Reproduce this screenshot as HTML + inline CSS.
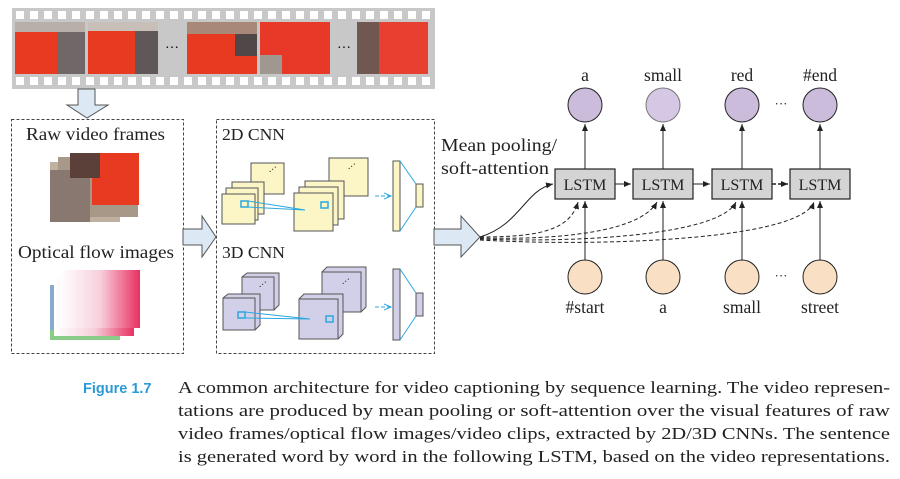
<!DOCTYPE html>
<html><head><style>
body{margin:0;width:900px;height:479px;background:#fff;overflow:hidden;font-family:"Liberation Serif",serif;}
</style></head><body>
<svg width="900" height="479" style="position:absolute;left:0;top:0" font-family="Liberation Serif, serif">
<defs>
<marker id="ah" markerWidth="8" markerHeight="8" refX="7" refY="4" orient="auto" markerUnits="userSpaceOnUse"><path d="M0,1 L7,4 L0,7 z" fill="#222"/></marker>
<marker id="bh" markerWidth="8" markerHeight="8" refX="7" refY="4" orient="auto" markerUnits="userSpaceOnUse"><path d="M0,1 L7,4 L0,7" fill="none" stroke="#29a8e0"/></marker>
<linearGradient id="flow" x1="0" y1="0" x2="1" y2="0"><stop offset="0" stop-color="#fff"/><stop offset="0.5" stop-color="#f7d0dc"/><stop offset="1" stop-color="#e83060"/></linearGradient>
</defs>
<rect x="12" y="8" width="423" height="81" fill="#c8c8c8"/>
<g id="holes" fill="#fff"></g>
<rect x="15" y="22" width="70" height="52" fill="#e83a20"/><rect x="58" y="22" width="27" height="52" fill="#706868"/><rect x="15" y="22" width="70" height="10" fill="#b8b0a8"/>
<rect x="88" y="22" width="70" height="52" fill="#e83a20"/><rect x="135" y="22" width="23" height="52" fill="#605858"/><rect x="88" y="22" width="70" height="9" fill="#c8c0b8"/>
<text x="172" y="52" font-size="14" text-anchor="middle">···</text>
<rect x="187" y="22" width="70" height="52" fill="#e83a20"/><rect x="187" y="22" width="70" height="12" fill="#a88878"/><rect x="235" y="34" width="22" height="22" fill="#504848"/>
<rect x="260" y="22" width="70" height="52" fill="#e83828"/><rect x="260" y="55" width="22" height="19" fill="#a09890"/>
<text x="344" y="52" font-size="14" text-anchor="middle">···</text>
<rect x="357" y="22" width="71" height="52" fill="#e84030"/><rect x="357" y="22" width="22" height="52" fill="#705850"/>
<path d="M78,89 H95 V105 H108 L87,118 L67,105 H78 Z" fill="#dce8f4" stroke="#555" stroke-width="1"/>
<rect x="11.5" y="119.5" width="172" height="234" fill="none" stroke="#444" stroke-dasharray="3,2"/>
<rect x="216.5" y="119.5" width="218" height="234" fill="none" stroke="#444" stroke-dasharray="3,2"/>
<text x="26" y="140" font-size="18" textLength="139" lengthAdjust="spacingAndGlyphs" fill="#222">Raw video frames</text>
<text x="18" y="258" font-size="18" textLength="156" lengthAdjust="spacingAndGlyphs" fill="#222">Optical flow images</text>
<rect x="50" y="162" width="70" height="60" fill="#c0b0a0"/><rect x="58" y="157" width="80" height="60" fill="#a89888"/><rect x="92" y="153" width="47" height="52" fill="#e83a20"/><rect x="50" y="170" width="40" height="52" fill="#887870"/><rect x="70" y="153" width="30" height="25" fill="#5a4038"/>
<rect x="50" y="285" width="70" height="55" fill="#8ac"/><rect x="50" y="330" width="70" height="10" fill="#8c8"/><rect x="54" y="278" width="80" height="58" fill="url(#flow)"/><rect x="60" y="270" width="80" height="58" fill="url(#flow)"/>
<path d="M183,229 H202 V216 L216,237 L202,257 V245 H183 Z" fill="#dce8f4" stroke="#555"/>
<path d="M434,229 H461 V216 L480,237 L461,257 V245 H434 Z" fill="#dce8f4" stroke="#555"/>
<text x="222" y="140" font-size="17" textLength="63" lengthAdjust="spacingAndGlyphs" fill="#222">2D CNN</text>
<g fill="#fcf5c6" stroke="#555">
<rect x="251" y="163" width="33" height="31"/>
<rect x="232" y="182" width="32" height="32"/><rect x="226" y="188" width="32" height="32"/><rect x="222" y="194" width="33" height="30"/>
<rect x="329" y="158" width="39" height="38"/>
<rect x="305" y="181" width="39" height="38"/><rect x="299" y="187" width="39" height="38"/><rect x="294" y="193" width="39" height="38"/>
<rect x="393" y="161" width="7" height="70"/><rect x="416" y="184" width="7" height="23"/>
</g>
<text x="271" y="175" font-size="10" fill="#222" transform="rotate(-40 271 175)">···</text>
<text x="350" y="172" font-size="10" fill="#222" transform="rotate(-40 350 172)">···</text>
<g stroke="#29a8e0" fill="none" stroke-width="1">
<rect x="241" y="201" width="7" height="6" stroke-width="1.5"/><rect x="321" y="202" width="7" height="6" stroke-width="1.5"/>
<path d="M248,201 L305,210 M248,207 L305,210"/>
<path d="M400,161 L416,184 M400,231 L416,207"/>
<path d="M375,196 H391" stroke-dasharray="4,2" marker-end="url(#bh)"/>
</g>
<text x="222" y="258" font-size="17" textLength="63" lengthAdjust="spacingAndGlyphs" fill="#222">3D CNN</text>
<g fill="#d2d0e8" stroke="#555">
<path d="M242,277 L247,273 H279 V305 L274,310"/><rect x="242" y="277" width="32" height="33"/>
<path d="M223,298 L228,294 H260 V325 L255,330"/><rect x="223" y="298" width="32" height="32"/>
<path d="M322,272 L327,267 H366 V307 L361,312"/><rect x="322" y="272" width="39" height="40"/>
<path d="M299,299 L304,294 H343 V334 L338,339"/><rect x="299" y="299" width="39" height="40"/>
<rect x="393" y="269" width="7" height="71"/><rect x="416" y="293" width="7" height="23"/>
</g>
<text x="261" y="290" font-size="10" fill="#222" transform="rotate(-40 261 290)">···</text>
<text x="344" y="287" font-size="10" fill="#222" transform="rotate(-40 344 287)">···</text>
<g stroke="#29a8e0" fill="none">
<rect x="238" y="312" width="7" height="6" stroke-width="1.5"/><rect x="326" y="316" width="7" height="6" stroke-width="1.5"/>
<path d="M245,312 L310,319 M245,318 L310,319"/>
<path d="M400,269 L416,293 M400,340 L416,316"/>
<path d="M375,307 H391" stroke-dasharray="4,2" marker-end="url(#bh)"/>
</g>
<text x="441" y="151" font-size="18" textLength="116" lengthAdjust="spacingAndGlyphs" fill="#222">Mean pooling/</text>
<text x="441" y="174" font-size="18" textLength="108" lengthAdjust="spacingAndGlyphs" fill="#222">soft-attention</text>
<g fill="#d4d4d4" stroke="#222" stroke-width="1.2">
<rect x="555" y="169" width="60" height="30"/><rect x="633" y="169" width="60" height="30"/><rect x="712" y="169" width="60" height="30"/><rect x="790" y="169" width="60" height="30"/>
</g>
<g font-size="16" text-anchor="middle" fill="#222">
<text x="585" y="190">LSTM</text><text x="663" y="190">LSTM</text><text x="742" y="190">LSTM</text><text x="820" y="190">LSTM</text>
</g>
<g stroke="#222" fill="none" stroke-width="1">
<path d="M615,184 H631" marker-end="url(#ah)"/><path d="M693,184 H710" marker-end="url(#ah)"/>
<path d="M772,184 H788" marker-end="url(#ah)" stroke-dasharray="4,2" stroke-width="1.5"/>
<path d="M585,169 V124" marker-end="url(#ah)"/><path d="M663,169 V124" marker-end="url(#ah)"/><path d="M742,169 V124" marker-end="url(#ah)"/><path d="M820,169 V124" marker-end="url(#ah)"/>
<path d="M585,260 V201" marker-end="url(#ah)"/><path d="M663,260 V201" marker-end="url(#ah)"/><path d="M742,260 V201" marker-end="url(#ah)"/><path d="M820,260 V201" marker-end="url(#ah)"/>
<path d="M480,237 C520,225 525,190 553,184" marker-end="url(#ah)"/>
<g stroke-dasharray="4,2.5">
<path d="M480,237 C540,237 570,230 578,202" marker-end="url(#ah)"/>
<path d="M480,238 C560,240 640,232 657,202" marker-end="url(#ah)"/>
<path d="M480,239 C580,243 720,235 736,202" marker-end="url(#ah)"/>
<path d="M480,240 C600,247 800,240 814,202" marker-end="url(#ah)"/>
</g>
</g>
<g fill="#cbbcdc" stroke="#222"><circle cx="585" cy="105" r="17"/><circle cx="663" cy="105" r="17" fill="#d4c8e4" stroke="#777"/><circle cx="742" cy="105" r="17"/><circle cx="820" cy="105" r="17"/></g>
<g fill="#f9dfc4" stroke="#222"><circle cx="585" cy="277" r="17"/><circle cx="663" cy="277" r="17"/><circle cx="742" cy="277" r="17"/><circle cx="820" cy="277" r="17"/></g>
<g font-size="17.5" text-anchor="middle" fill="#222">
<text x="585" y="81">a</text><text x="663" y="81">small</text><text x="742" y="81">red</text><text x="820" y="81">#end</text>
<text x="585" y="313">#start</text><text x="663" y="313">a</text><text x="742" y="313">small</text><text x="820" y="313">street</text>
<text x="781" y="108" font-size="13">···</text><text x="781" y="280" font-size="13">···</text>
</g>
<text x="83" y="393" font-size="14.5" font-weight="bold" fill="#2a9ad6" font-family="Liberation Sans, sans-serif">Figure 1.7</text>
<g font-size="17" fill="#222">
<text x="178" y="393" textLength="712" lengthAdjust="spacingAndGlyphs">A common architecture for video captioning by sequence learning. The video represen-</text>
<text x="178" y="416" textLength="712" lengthAdjust="spacingAndGlyphs">tations are produced by mean pooling or soft-attention over the visual features of raw</text>
<text x="178" y="439" textLength="712" lengthAdjust="spacingAndGlyphs">video frames/optical flow images/video clips, extracted by 2D/3D CNNs. The sentence</text>
<text x="178" y="462" textLength="712" lengthAdjust="spacingAndGlyphs">is generated word by word in the following LSTM, based on the video representations.</text>
</g>
</svg>
<script>
var g=document.getElementById('holes'),s='';
for(var x=16;x<428;x+=14){s+='<rect x="'+x+'" y="11" width="8" height="8"/><rect x="'+x+'" y="77" width="8" height="8"/>';}
g.innerHTML=s;
</script>
</body></html>
